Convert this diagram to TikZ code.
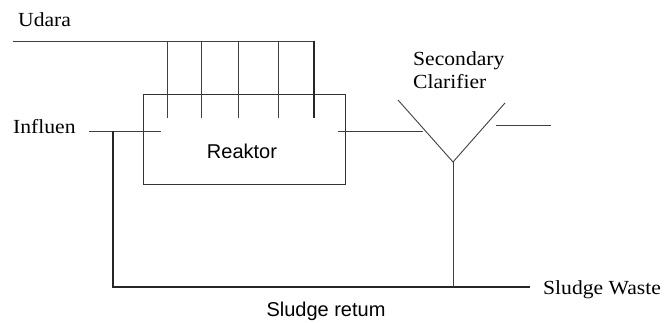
\documentclass[tikz,border=0pt]{standalone}
\usepackage{fontspec}
\setmainfont{Liberation Serif}
\newfontfamily\lsans{Liberation Sans}
\begin{document}
\begin{tikzpicture}[x=1pt,y=-1pt,
  pipe/.style={draw=black!75,line width=0.9pt},
  thick pipe/.style={draw=black!85,line width=1.3pt},
  serif label/.style={font=\fontsize{20}{24}\selectfont,inner sep=0pt,xscale=1.08},
  sans label/.style={font=\lsans\fontsize{20}{24}\selectfont,inner sep=0pt},
  tank/.style={draw=black!80,line width=1pt,minimum width=202pt,minimum height=90pt,inner sep=0pt}]
\useasboundingbox (0,0) rectangle (665,323);
% labels
\node[serif label,anchor=base west] (udara) at (18,27) {Udara};
\node[serif label,anchor=base west] (influen) at (13,134) {Influen};
\node[serif label,anchor=base west] (sec) at (413,66) {Secondary};
\node[serif label,anchor=base west] (clar) at (413,89) {Clarifier};
\node[serif label,anchor=base west] (waste) at (543,295) {Sludge Waste};
\node[sans label,anchor=base] (ret) at (326,317) {Sludge retum};
% reactor
\node[tank] (reaktor) at (244,140) {};
\node[sans label] (rlabel) at (242,151) {Reaktor};
% coordinates
\coordinate (airL) at (13,41);
\coordinate (airR) at (314,41);
\foreach \i/\x in {1/167,2/201,3/238,4/278}{
  \coordinate (a\i t) at (\x,41);
  \coordinate (a\i b) at (\x,118);
}
\coordinate (a5b) at (314,118);
\coordinate (inL) at (89,131);
\coordinate (inR) at (161,131);
\coordinate (retTop) at (113,131);
\coordinate (retCorner) at (113,287);
\coordinate (retEnd) at (530,287);
\coordinate (outL) at (338,131);
\coordinate (outR) at (423,131);
\coordinate (vL) at (398,100);
\coordinate (vB) at (453,162);
\coordinate (vR) at (505,103);
\coordinate (stemB) at (453,287);
\coordinate (effL) at (496,125);
\coordinate (effR) at (551,125);
% air supply
\draw[pipe] (airL) -- (airR);
\foreach \i in {1,2,3,4}{ \draw[pipe] (a\i t) -- (a\i b); }
\draw[thick pipe] (airR) -- (a5b);
% influent and return
\draw[pipe] (inL) -- (inR);
\draw[thick pipe] (retTop) -- (retCorner) -- (retEnd);
% reactor outlet to clarifier
\draw[pipe] (outL) -- (outR);
\draw[pipe] (vL) -- (vB) -- (vR);
\draw[pipe] (vB) -- (stemB);
\draw[pipe] (effL) -- (effR);
\end{tikzpicture}
\end{document}
